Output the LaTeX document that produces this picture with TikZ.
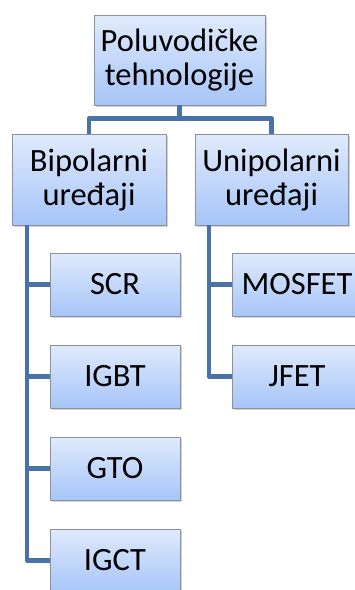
\documentclass[tikz,border=0pt]{standalone}
\usepackage{fontspec}
\setmainfont{Carlito}
\usetikzlibrary{calc,shadows}
\definecolor{boxtop}{RGB}{224,234,252}
\definecolor{boxbot}{RGB}{166,197,248}
\definecolor{boxline}{RGB}{140,145,155}
\definecolor{link}{RGB}{72,114,168}
\begin{document}
\begin{tikzpicture}[x=1pt, y=-1pt,
  box/.style={draw=boxline, line width=0.8pt, top color=boxtop, bottom color=boxbot,
    align=center, inner sep=0pt, font=\fontsize{32.5}{34}\selectfont,
    drop shadow={shadow xshift=1.5pt, shadow yshift=-2pt, opacity=0.35}},
  leaf/.style={box, minimum width=130pt, minimum height=63pt},
  link/.style={draw=link, line width=4.5pt, line join=round}]
  \useasboundingbox (0,0) rectangle (355,590);
  \clip (0,0) rectangle (355,590);
  \node [box, minimum width=171pt, minimum height=90pt] (root) at (179.5, 60) {Poluvodičke\\tehnologije};
  \node [box, minimum width=154pt, minimum height=91pt] (bip) at (89, 179.5) {Bipolarni\\uređaji};
  \node [box, minimum width=153pt, minimum height=91pt] (uni) at (271.5, 179.5) {Unipolarni\\uređaji};
  \node [leaf] (scr) at (115, 284.5) {SCR};
  \node [leaf] (igbt) at (115, 376.5) {IGBT};
  \node [leaf] (gto) at (115, 468.5) {GTO};
  \node [leaf] (igct) at (115, 560.5) {IGCT};
  \node [leaf] (mosfet) at (297, 284.5) {MOSFET};
  \node [leaf] (jfet) at (297, 376.5) {JFET};
  \coordinate (bl) at (27, 0);
  \coordinate (ul) at (209, 0);
  \path [link] (root.south) -- ++(0,13) -| (bip.north);
  \path [link] (root.south) -- ++(0,13) -| (uni.north);
  \foreach \n in {scr,igbt,gto,igct}
    \path [link] (bip.south -| bl) |- (\n.west);
  \foreach \n in {mosfet,jfet}
    \path [link] (uni.south -| ul) |- (\n.west);
\end{tikzpicture}
\end{document}
